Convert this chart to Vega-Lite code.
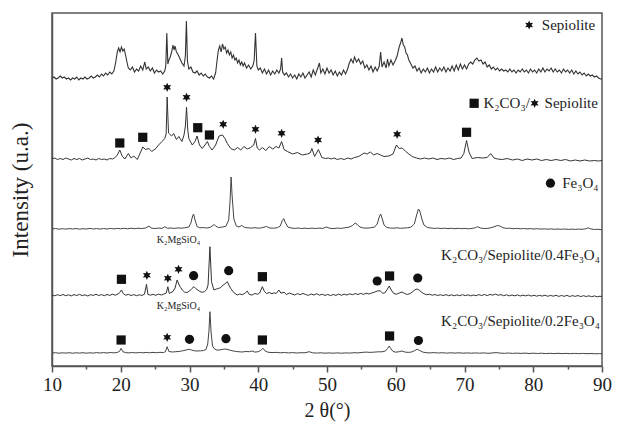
{
  "$schema": "https://vega.github.io/schema/vega-lite/v6.json",
  "width": 550,
  "height": 353,
  "autosize": {"type": "none"},
  "padding": {"left": 52, "top": 13, "right": 15, "bottom": 60},
  "config": {
    "font": "'Liberation Serif', 'Times New Roman', serif",
    "view": {"stroke": "#555", "strokeWidth": 1.5},
    "axis": {"domainColor": "#555", "domainWidth": 1.5, "grid": false, "labelColor": "#222", "titleColor": "#222", "titleFontWeight": "normal", "labelFont": "'Liberation Serif', 'Times New Roman', serif", "titleFont": "'Liberation Serif', 'Times New Roman', serif"}
  },
  "datasets": {
    "sep": [
      {"t":10.0,"i":288},{"t":10.3,"i":289},{"t":10.6,"i":287},{"t":10.9,"i":288},{"t":11.2,"i":290},{"t":11.5,"i":288},{"t":11.8,"i":289},{"t":12.1,"i":287},{"t":12.4,"i":288},{"t":12.7,"i":286},
      {"t":13.0,"i":288},{"t":13.3,"i":287},{"t":13.6,"i":289},{"t":13.9,"i":286},{"t":14.2,"i":288},{"t":14.5,"i":287},{"t":14.8,"i":289},{"t":15.1,"i":287},{"t":15.4,"i":288},{"t":15.7,"i":290},
      {"t":16.0,"i":288},{"t":16.3,"i":289},{"t":16.6,"i":291},{"t":16.9,"i":289},{"t":17.2,"i":292},{"t":17.5,"i":290},{"t":17.8,"i":293},{"t":18.1,"i":291},{"t":18.4,"i":294},{"t":18.7,"i":292},
      {"t":19.0,"i":295},{"t":19.25,"i":303},{"t":19.5,"i":314},{"t":19.7,"i":318},{"t":19.9,"i":314},{"t":20.1,"i":319},{"t":20.3,"i":315},{"t":20.5,"i":317},{"t":20.7,"i":311},{"t":20.9,"i":304},
      {"t":21.1,"i":298},{"t":21.4,"i":296},{"t":21.7,"i":299},{"t":22.0,"i":294},{"t":22.3,"i":297},{"t":22.6,"i":295},{"t":22.9,"i":300},{"t":23.2,"i":296},{"t":23.5,"i":304},{"t":23.7,"i":297},
      {"t":24.0,"i":299},{"t":24.3,"i":295},{"t":24.6,"i":298},{"t":24.9,"i":293},{"t":25.2,"i":296},{"t":25.5,"i":294},{"t":25.8,"i":295},{"t":26.1,"i":292},{"t":26.4,"i":295},{"t":26.55,"i":300},
      {"t":26.7,"i":333},{"t":26.85,"i":302},{"t":27.0,"i":306},{"t":27.2,"i":309},{"t":27.4,"i":314},{"t":27.6,"i":321},{"t":27.75,"i":316},{"t":27.9,"i":320},{"t":28.1,"i":314},{"t":28.3,"i":312},
      {"t":28.5,"i":309},{"t":28.7,"i":306},{"t":28.9,"i":303},{"t":29.2,"i":300},{"t":29.4,"i":310},{"t":29.55,"i":345},{"t":29.7,"i":305},{"t":29.9,"i":297},{"t":30.2,"i":299},{"t":30.5,"i":294},
      {"t":30.8,"i":293},{"t":31.1,"i":295},{"t":31.4,"i":291},{"t":31.7,"i":293},{"t":32.0,"i":290},{"t":32.3,"i":292},{"t":32.6,"i":289},{"t":32.9,"i":288},{"t":33.2,"i":290},{"t":33.5,"i":287},
      {"t":33.8,"i":293},{"t":34.0,"i":305},{"t":34.2,"i":316},{"t":34.4,"i":320},{"t":34.6,"i":314},{"t":34.8,"i":322},{"t":35.0,"i":317},{"t":35.2,"i":319},{"t":35.4,"i":313},{"t":35.6,"i":316},
      {"t":35.8,"i":311},{"t":36.0,"i":314},{"t":36.2,"i":308},{"t":36.4,"i":311},{"t":36.6,"i":306},{"t":36.8,"i":308},{"t":37.0,"i":303},{"t":37.2,"i":306},{"t":37.4,"i":301},{"t":37.6,"i":304},
      {"t":37.8,"i":300},{"t":38.0,"i":303},{"t":38.3,"i":298},{"t":38.6,"i":301},{"t":38.9,"i":297},{"t":39.2,"i":300},{"t":39.4,"i":305},{"t":39.6,"i":333},{"t":39.8,"i":300},{"t":40.0,"i":296},
      {"t":40.3,"i":298},{"t":40.6,"i":293},{"t":40.9,"i":297},{"t":41.2,"i":292},{"t":41.5,"i":296},{"t":41.8,"i":291},{"t":42.1,"i":295},{"t":42.4,"i":292},{"t":42.7,"i":296},{"t":43.0,"i":293},
      {"t":43.25,"i":297},{"t":43.4,"i":308},{"t":43.55,"i":294},{"t":43.8,"i":291},{"t":44.1,"i":293},{"t":44.4,"i":289},{"t":44.7,"i":292},{"t":45.0,"i":288},{"t":45.3,"i":291},{"t":45.6,"i":287},
      {"t":45.9,"i":292},{"t":46.2,"i":289},{"t":46.5,"i":293},{"t":46.8,"i":288},{"t":47.1,"i":291},{"t":47.4,"i":294},{"t":47.7,"i":289},{"t":48.0,"i":296},{"t":48.3,"i":291},{"t":48.6,"i":297},
      {"t":48.9,"i":303},{"t":49.1,"i":293},{"t":49.4,"i":297},{"t":49.7,"i":292},{"t":50.0,"i":298},{"t":50.3,"i":293},{"t":50.6,"i":296},{"t":50.9,"i":291},{"t":51.2,"i":295},{"t":51.5,"i":290},
      {"t":51.8,"i":294},{"t":52.1,"i":291},{"t":52.4,"i":296},{"t":52.7,"i":292},{"t":53.0,"i":297},{"t":53.2,"i":302},{"t":53.5,"i":307},{"t":53.8,"i":303},{"t":54.0,"i":309},{"t":54.3,"i":304},
      {"t":54.6,"i":307},{"t":54.9,"i":302},{"t":55.2,"i":305},{"t":55.5,"i":298},{"t":55.8,"i":301},{"t":56.1,"i":296},{"t":56.4,"i":300},{"t":56.7,"i":294},{"t":57.0,"i":299},{"t":57.3,"i":295},
      {"t":57.6,"i":300},{"t":57.8,"i":314},{"t":58.0,"i":299},{"t":58.3,"i":304},{"t":58.6,"i":298},{"t":58.8,"i":307},{"t":59.0,"i":300},{"t":59.3,"i":306},{"t":59.6,"i":301},{"t":59.9,"i":305},
      {"t":60.2,"i":310},{"t":60.5,"i":319},{"t":60.75,"i":324},{"t":60.9,"i":328},{"t":61.1,"i":321},{"t":61.3,"i":319},{"t":61.5,"i":313},{"t":61.7,"i":311},{"t":61.9,"i":306},{"t":62.2,"i":302},
      {"t":62.5,"i":298},{"t":62.8,"i":300},{"t":63.1,"i":295},{"t":63.4,"i":298},{"t":63.7,"i":293},{"t":64.0,"i":297},{"t":64.3,"i":294},{"t":64.6,"i":298},{"t":64.9,"i":293},{"t":65.2,"i":297},
      {"t":65.5,"i":294},{"t":65.8,"i":299},{"t":66.1,"i":294},{"t":66.4,"i":298},{"t":66.7,"i":295},{"t":67.0,"i":299},{"t":67.3,"i":294},{"t":67.6,"i":298},{"t":67.9,"i":295},{"t":68.2,"i":300},
      {"t":68.5,"i":295},{"t":68.8,"i":301},{"t":69.1,"i":296},{"t":69.4,"i":302},{"t":69.7,"i":297},{"t":70.0,"i":301},{"t":70.3,"i":297},{"t":70.6,"i":302},{"t":70.9,"i":304},{"t":71.2,"i":302},
      {"t":71.5,"i":306},{"t":71.8,"i":308},{"t":72.1,"i":305},{"t":72.4,"i":306},{"t":72.7,"i":302},{"t":73.0,"i":304},{"t":73.3,"i":299},{"t":73.6,"i":301},{"t":73.9,"i":297},{"t":74.2,"i":299},
      {"t":74.5,"i":296},{"t":74.8,"i":298},{"t":75.1,"i":295},{"t":75.4,"i":297},{"t":75.7,"i":295},{"t":76.0,"i":296},{"t":76.3,"i":294},{"t":76.6,"i":297},{"t":76.9,"i":294},{"t":77.2,"i":296},
      {"t":77.5,"i":293},{"t":77.8,"i":296},{"t":78.1,"i":294},{"t":78.4,"i":297},{"t":78.7,"i":294},{"t":79.0,"i":296},{"t":79.3,"i":293},{"t":79.6,"i":297},{"t":79.9,"i":294},{"t":80.2,"i":296},
      {"t":80.5,"i":293},{"t":80.8,"i":297},{"t":81.1,"i":294},{"t":81.4,"i":298},{"t":81.7,"i":294},{"t":82.0,"i":297},{"t":82.3,"i":295},{"t":82.6,"i":298},{"t":82.9,"i":294},{"t":83.2,"i":297},
      {"t":83.5,"i":294},{"t":83.8,"i":296},{"t":84.1,"i":293},{"t":84.4,"i":297},{"t":84.7,"i":294},{"t":85.0,"i":296},{"t":85.3,"i":293},{"t":85.6,"i":296},{"t":85.9,"i":292},{"t":86.2,"i":295},
      {"t":86.5,"i":292},{"t":86.8,"i":294},{"t":87.1,"i":291},{"t":87.4,"i":293},{"t":87.7,"i":290},{"t":88.0,"i":292},{"t":88.3,"i":290},{"t":88.6,"i":291},{"t":88.9,"i":289},{"t":89.2,"i":290},
      {"t":89.5,"i":288},{"t":89.8,"i":287},{"t":90.0,"i":287}
    ],
    "kcs": [
      {"t":10.0,"i":207},{"t":10.4,"i":208},{"t":10.8,"i":206.5},{"t":11.2,"i":207.5},{"t":11.6,"i":206.5},{"t":12.0,"i":208},{"t":12.4,"i":207},{"t":12.8,"i":206},{"t":13.2,"i":207.5},{"t":13.6,"i":206.5},
      {"t":14.0,"i":207.5},{"t":14.4,"i":206},{"t":14.8,"i":207},{"t":15.2,"i":208},{"t":15.6,"i":206.5},{"t":16.0,"i":207},{"t":16.4,"i":206},{"t":16.8,"i":207.5},{"t":17.2,"i":206.5},{"t":17.6,"i":207},
      {"t":18.0,"i":206},{"t":18.4,"i":207.5},{"t":18.8,"i":207},{"t":19.1,"i":208},{"t":19.5,"i":211},{"t":19.86,"i":216},{"t":20.2,"i":210},{"t":20.6,"i":207},{"t":21.1,"i":212.5},{"t":21.5,"i":208},
      {"t":21.9,"i":210},{"t":22.4,"i":206.5},{"t":22.9,"i":214},{"t":23.2,"i":219},{"t":23.6,"i":216.5},{"t":24.1,"i":217.5},{"t":24.5,"i":214.5},{"t":25.1,"i":217.5},{"t":25.5,"i":221},{"t":26.0,"i":224.5},
      {"t":26.4,"i":227.5},{"t":26.6,"i":232},{"t":26.75,"i":269},{"t":26.95,"i":233},{"t":27.4,"i":230},{"t":27.7,"i":232.5},{"t":28.1,"i":226.5},{"t":28.45,"i":229.5},{"t":28.9,"i":224.5},{"t":29.2,"i":231},
      {"t":29.4,"i":240},{"t":29.57,"i":259},{"t":29.75,"i":236},{"t":29.9,"i":227.5},{"t":30.4,"i":221},{"t":30.8,"i":224.5},{"t":31.1,"i":230},{"t":31.45,"i":221},{"t":31.85,"i":217.5},{"t":32.25,"i":221},
      {"t":32.6,"i":224.5},{"t":32.9,"i":219.5},{"t":33.3,"i":216},{"t":33.8,"i":221},{"t":34.3,"i":230},{"t":34.8,"i":231},{"t":35.15,"i":227.5},{"t":35.5,"i":222.5},{"t":36.0,"i":217.5},{"t":36.5,"i":216},
      {"t":37.0,"i":218.5},{"t":37.45,"i":216},{"t":37.9,"i":219.5},{"t":38.4,"i":217},{"t":38.9,"i":218.5},{"t":39.35,"i":221},{"t":39.6,"i":227.5},{"t":39.85,"i":218},{"t":40.2,"i":216},{"t":40.6,"i":218.5},
      {"t":41.1,"i":215.5},{"t":41.6,"i":219.5},{"t":42.1,"i":217},{"t":42.6,"i":219.5},{"t":43.0,"i":218},{"t":43.4,"i":224.5},{"t":43.75,"i":216.5},{"t":44.25,"i":214.5},{"t":45.0,"i":212},{"t":45.7,"i":213.5},
      {"t":46.4,"i":211},{"t":47.15,"i":212},{"t":47.55,"i":213},{"t":47.8,"i":217.5},{"t":48.2,"i":209.5},{"t":48.75,"i":216.5},{"t":49.25,"i":208.5},{"t":49.8,"i":207.5},{"t":50.2,"i":208},{"t":50.6,"i":207},
      {"t":51.0,"i":208},{"t":51.5,"i":206.5},{"t":52.0,"i":207.5},{"t":52.5,"i":206.5},{"t":53.0,"i":208},{"t":53.5,"i":207},{"t":54.0,"i":208.5},{"t":54.6,"i":209.5},{"t":55.4,"i":213},{"t":55.85,"i":212},
      {"t":56.3,"i":214},{"t":56.8,"i":211},{"t":57.3,"i":212.5},{"t":57.8,"i":211},{"t":58.3,"i":209.5},{"t":59.0,"i":210},{"t":59.6,"i":212},{"t":60.1,"i":221},{"t":60.5,"i":217.5},{"t":60.95,"i":218},
      {"t":61.45,"i":214.5},{"t":61.9,"i":212},{"t":62.4,"i":209.5},{"t":63.0,"i":208},{"t":63.6,"i":207},{"t":64.2,"i":208},{"t":64.8,"i":207},{"t":65.4,"i":208},{"t":66.0,"i":206.5},{"t":66.6,"i":207.5},
      {"t":67.2,"i":207},{"t":67.8,"i":208},{"t":68.4,"i":206.5},{"t":69.0,"i":207.5},{"t":69.5,"i":208},{"t":69.9,"i":212.5},{"t":70.3,"i":225.5},{"t":70.65,"i":214},{"t":71.1,"i":207.5},{"t":71.9,"i":208.5},
      {"t":72.6,"i":208},{"t":73.3,"i":208.5},{"t":73.8,"i":212.5},{"t":74.3,"i":208},{"t":74.8,"i":207},{"t":75.5,"i":206.5},{"t":76.2,"i":207.5},{"t":77.0,"i":206},{"t":77.7,"i":207},{"t":78.4,"i":205.5},
      {"t":79.1,"i":207},{"t":79.8,"i":206},{"t":80.5,"i":207},{"t":81.2,"i":205.5},{"t":81.9,"i":206.5},{"t":82.6,"i":205.5},{"t":83.3,"i":206.5},{"t":84.0,"i":205.5},{"t":84.7,"i":206.5},{"t":85.4,"i":205},
      {"t":86.1,"i":206},{"t":86.8,"i":205},{"t":87.5,"i":206},{"t":88.2,"i":205},{"t":88.9,"i":205.5},{"t":89.5,"i":205},{"t":90.0,"i":205.5}
    ],
    "fe": [
      {"t":10.0,"i":137},{"t":10.5,"i":137.5},{"t":11.0,"i":136.8},{"t":11.5,"i":137.3},{"t":12.0,"i":136.9},{"t":12.5,"i":137.4},{"t":13.0,"i":137},{"t":13.5,"i":137.5},{"t":14.0,"i":136.8},{"t":14.5,"i":137.3},
      {"t":15.0,"i":137},{"t":15.5,"i":137.6},{"t":16.0,"i":137},{"t":16.5,"i":137.4},{"t":17.0,"i":136.9},{"t":17.5,"i":137.5},{"t":18.0,"i":137},{"t":18.5,"i":137.6},{"t":19.0,"i":137.1},{"t":19.5,"i":137.6},
      {"t":20.0,"i":137.2},{"t":20.5,"i":137.7},{"t":21.0,"i":137.2},{"t":21.5,"i":137.8},{"t":22.0,"i":137.3},{"t":22.5,"i":137.8},{"t":23.0,"i":137.4},{"t":23.6,"i":138},{"t":24.1,"i":139.8},{"t":24.5,"i":137.8},
      {"t":25.0,"i":137.5},{"t":25.5,"i":137.9},{"t":26.0,"i":137.6},{"t":26.4,"i":139.3},{"t":26.8,"i":137.7},{"t":27.3,"i":138},{"t":27.8,"i":137.6},{"t":28.3,"i":138.1},{"t":28.8,"i":137.8},{"t":29.3,"i":138.2},
      {"t":29.9,"i":139},{"t":30.2,"i":143},{"t":30.45,"i":150},{"t":30.6,"i":152},{"t":30.8,"i":146},{"t":31.1,"i":139.5},{"t":31.5,"i":138.2},{"t":32.0,"i":138.4},{"t":32.5,"i":138},{"t":33.0,"i":138.6},
      {"t":33.4,"i":140.5},{"t":33.6,"i":141.5},{"t":33.8,"i":140},{"t":34.2,"i":138.5},{"t":34.7,"i":138.8},{"t":35.3,"i":139.8},{"t":35.7,"i":146},{"t":35.9,"i":165},{"t":36.05,"i":189},{"t":36.2,"i":170},
      {"t":36.45,"i":147},{"t":36.8,"i":140},{"t":37.2,"i":139},{"t":37.6,"i":140.5},{"t":38.0,"i":138.5},{"t":38.5,"i":138.2},{"t":39.0,"i":137.9},{"t":39.5,"i":138.3},{"t":40.0,"i":137.8},{"t":40.5,"i":138.2},
      {"t":41.2,"i":139.5},{"t":41.7,"i":138},{"t":42.2,"i":137.8},{"t":42.8,"i":138.3},{"t":43.2,"i":140},{"t":43.5,"i":145.5},{"t":43.7,"i":147.5},{"t":43.9,"i":144},{"t":44.3,"i":139},{"t":44.8,"i":138},
      {"t":45.3,"i":137.6},{"t":45.8,"i":138},{"t":46.3,"i":137.5},{"t":46.8,"i":137.9},{"t":47.3,"i":137.4},{"t":47.8,"i":137.9},{"t":48.3,"i":137.5},{"t":48.8,"i":137.9},{"t":49.4,"i":137.6},{"t":49.9,"i":139},
      {"t":50.4,"i":137.7},{"t":51.0,"i":137.5},{"t":51.5,"i":137.9},{"t":52.0,"i":137.6},{"t":52.6,"i":138.2},{"t":53.2,"i":138.8},{"t":53.7,"i":140.5},{"t":54.1,"i":143},{"t":54.4,"i":141.5},{"t":54.8,"i":139},
      {"t":55.3,"i":138},{"t":55.8,"i":137.9},{"t":56.3,"i":138.2},{"t":56.9,"i":138.8},{"t":57.3,"i":142},{"t":57.6,"i":149},{"t":57.8,"i":152},{"t":58.0,"i":148},{"t":58.3,"i":141},{"t":58.7,"i":138.5},
      {"t":59.2,"i":138},{"t":59.7,"i":137.8},{"t":60.2,"i":138.2},{"t":60.7,"i":137.7},{"t":61.2,"i":138},{"t":61.7,"i":138.2},{"t":62.2,"i":138.8},{"t":62.7,"i":142},{"t":63.0,"i":150},{"t":63.3,"i":157},
      {"t":63.5,"i":155},{"t":63.8,"i":147},{"t":64.1,"i":141},{"t":64.6,"i":138.5},{"t":65.1,"i":138},{"t":65.6,"i":137.6},{"t":66.1,"i":137.9},{"t":66.6,"i":137.5},{"t":67.1,"i":137.8},{"t":67.6,"i":137.4},
      {"t":68.1,"i":137.7},{"t":68.6,"i":137.3},{"t":69.1,"i":137.7},{"t":69.6,"i":137.3},{"t":70.1,"i":137.6},{"t":70.6,"i":137.2},{"t":71.1,"i":137.6},{"t":71.6,"i":138.3},{"t":71.9,"i":139.3},{"t":72.3,"i":138},
      {"t":72.8,"i":137.5},{"t":73.3,"i":137.6},{"t":73.8,"i":138.2},{"t":74.3,"i":139.2},{"t":74.8,"i":140.6},{"t":75.2,"i":139.8},{"t":75.6,"i":138.3},{"t":76.1,"i":137.6},{"t":76.6,"i":137.8},{"t":77.1,"i":137.3},
      {"t":77.6,"i":137.6},{"t":78.1,"i":137.2},{"t":78.6,"i":137.5},{"t":79.1,"i":137.1},{"t":79.6,"i":137.4},{"t":80.1,"i":137},{"t":80.6,"i":137.3},{"t":81.1,"i":136.9},{"t":81.6,"i":137.2},{"t":82.1,"i":136.8},
      {"t":82.6,"i":137.1},{"t":83.1,"i":136.7},{"t":83.6,"i":137},{"t":84.1,"i":136.7},{"t":84.6,"i":137},{"t":85.1,"i":136.6},{"t":85.6,"i":136.9},{"t":86.1,"i":136.6},{"t":86.6,"i":136.9},{"t":87.1,"i":136.7},
      {"t":87.6,"i":137.2},{"t":88.0,"i":138.2},{"t":88.4,"i":137},{"t":88.9,"i":136.5},{"t":89.4,"i":136.7},{"t":90.0,"i":136.2}
    ],
    "f04": [
      {"t":10.0,"i":71},{"t":10.4,"i":70.2},{"t":10.8,"i":71.3},{"t":11.2,"i":70.4},{"t":11.6,"i":71.5},{"t":12.0,"i":70.3},{"t":12.4,"i":71.2},{"t":12.8,"i":70.1},{"t":13.2,"i":71.4},{"t":13.6,"i":70.5},
      {"t":14.0,"i":71.6},{"t":14.4,"i":70.4},{"t":14.8,"i":71.2},{"t":15.2,"i":70},{"t":15.6,"i":71.3},{"t":16.0,"i":70.6},{"t":16.4,"i":71.7},{"t":16.8,"i":70.5},{"t":17.2,"i":71.4},{"t":17.6,"i":70.3},
      {"t":18.0,"i":71.5},{"t":18.4,"i":70.6},{"t":18.8,"i":71.8},{"t":19.2,"i":70.8},{"t":19.6,"i":72},{"t":19.85,"i":73.5},{"t":20.1,"i":76},{"t":20.35,"i":72.5},{"t":20.7,"i":70.8},{"t":21.1,"i":71.6},
      {"t":21.5,"i":70.5},{"t":21.9,"i":71.4},{"t":22.3,"i":70.3},{"t":22.7,"i":71.2},{"t":23.1,"i":70.6},{"t":23.45,"i":71.8},{"t":23.75,"i":81.7},{"t":23.95,"i":71.6},{"t":24.3,"i":70.8},{"t":24.7,"i":71.6},
      {"t":25.1,"i":70.7},{"t":25.5,"i":71.9},{"t":25.9,"i":71},{"t":26.3,"i":72},{"t":26.6,"i":72.8},{"t":26.85,"i":79.3},{"t":27.05,"i":72.6},{"t":27.3,"i":73.5},{"t":27.6,"i":74.5},{"t":27.9,"i":78},
      {"t":28.2,"i":86},{"t":28.5,"i":81},{"t":28.7,"i":78.5},{"t":28.95,"i":76},{"t":29.25,"i":74},{"t":29.6,"i":73.4},{"t":30.0,"i":75},{"t":30.35,"i":77.5},{"t":30.64,"i":79.3},{"t":30.9,"i":77.5},
      {"t":31.2,"i":76},{"t":31.5,"i":74.5},{"t":31.85,"i":73.7},{"t":32.2,"i":74.5},{"t":32.5,"i":76.5},{"t":32.7,"i":81},{"t":32.97,"i":119.3},{"t":33.2,"i":84.3},{"t":33.55,"i":76},{"t":33.9,"i":77},
      {"t":34.2,"i":77.5},{"t":34.55,"i":78.5},{"t":34.9,"i":81},{"t":35.2,"i":82.5},{"t":35.5,"i":84.3},{"t":35.8,"i":80},{"t":36.0,"i":77.5},{"t":36.45,"i":73.3},{"t":36.95,"i":71},{"t":37.3,"i":72},
      {"t":37.7,"i":71.3},{"t":38.1,"i":73},{"t":38.4,"i":75},{"t":38.7,"i":71.5},{"t":39.1,"i":71},{"t":39.5,"i":72.5},{"t":39.9,"i":71.8},{"t":40.2,"i":73},{"t":40.6,"i":79.3},{"t":40.9,"i":74.5},
      {"t":41.2,"i":72.5},{"t":41.6,"i":73.5},{"t":42.0,"i":72.3},{"t":42.3,"i":73.2},{"t":42.6,"i":72.5},{"t":43.0,"i":76},{"t":43.3,"i":72.8},{"t":43.75,"i":73.8},{"t":44.1,"i":71.5},{"t":44.5,"i":73},
      {"t":44.9,"i":72},{"t":45.3,"i":71},{"t":45.7,"i":72.4},{"t":46.1,"i":71.3},{"t":46.5,"i":72.6},{"t":46.9,"i":71.5},{"t":47.3,"i":70.6},{"t":47.7,"i":72},{"t":48.1,"i":71},{"t":48.5,"i":72.3},
      {"t":48.9,"i":70.8},{"t":49.3,"i":71.8},{"t":49.7,"i":70.5},{"t":50.1,"i":71.6},{"t":50.5,"i":70.4},{"t":50.9,"i":71.5},{"t":51.3,"i":70.6},{"t":51.7,"i":71.9},{"t":52.1,"i":70.7},{"t":52.5,"i":71.8},
      {"t":52.9,"i":71},{"t":53.3,"i":72.2},{"t":53.7,"i":71.3},{"t":54.1,"i":72.4},{"t":54.5,"i":71.5},{"t":54.9,"i":72.6},{"t":55.3,"i":71.6},{"t":55.7,"i":72.8},{"t":56.1,"i":72},{"t":56.5,"i":73},
      {"t":56.9,"i":73.8},{"t":57.3,"i":75},{"t":57.7,"i":75.3},{"t":58.1,"i":72.8},{"t":58.4,"i":73},{"t":58.75,"i":76.5},{"t":59.05,"i":80},{"t":59.35,"i":76},{"t":59.7,"i":72.5},{"t":60.1,"i":71.8},
      {"t":60.5,"i":73},{"t":60.9,"i":74},{"t":61.3,"i":72.5},{"t":61.7,"i":71.5},{"t":62.1,"i":72.5},{"t":62.5,"i":74.5},{"t":62.8,"i":76.3},{"t":63.1,"i":77},{"t":63.4,"i":76},{"t":63.7,"i":74},
      {"t":64.1,"i":72.3},{"t":64.5,"i":71.2},{"t":64.9,"i":71.8},{"t":65.3,"i":70.8},{"t":65.7,"i":71.5},{"t":66.1,"i":70.5},{"t":66.5,"i":71.3},{"t":66.9,"i":70.4},{"t":67.3,"i":71.4},{"t":67.7,"i":70.3},
      {"t":68.1,"i":71.2},{"t":68.5,"i":70.2},{"t":68.9,"i":71.1},{"t":69.3,"i":70.3},{"t":69.7,"i":71.3},{"t":70.1,"i":70.4},{"t":70.5,"i":71.2},{"t":70.9,"i":70.1},{"t":71.3,"i":71},{"t":71.7,"i":70.3},
      {"t":72.1,"i":71.4},{"t":72.5,"i":70.5},{"t":72.9,"i":71.5},{"t":73.3,"i":70.4},{"t":73.7,"i":71.6},{"t":74.1,"i":70.8},{"t":74.5,"i":71.9},{"t":74.9,"i":70.7},{"t":75.3,"i":71.4},{"t":75.7,"i":70.3},
      {"t":76.1,"i":71.2},{"t":76.5,"i":70.1},{"t":76.9,"i":71},{"t":77.3,"i":70.2},{"t":77.7,"i":71.1},{"t":78.1,"i":70},{"t":78.5,"i":70.9},{"t":78.9,"i":70.1},{"t":79.3,"i":71},{"t":79.7,"i":69.9},
      {"t":80.1,"i":70.8},{"t":80.5,"i":69.8},{"t":80.9,"i":70.7},{"t":81.3,"i":69.9},{"t":81.7,"i":70.8},{"t":82.1,"i":69.7},{"t":82.5,"i":70.6},{"t":82.9,"i":69.8},{"t":83.3,"i":70.7},{"t":83.7,"i":69.6},
      {"t":84.1,"i":70.5},{"t":84.5,"i":69.7},{"t":84.9,"i":70.6},{"t":85.3,"i":69.5},{"t":85.7,"i":70.4},{"t":86.1,"i":69.6},{"t":86.5,"i":70.5},{"t":86.9,"i":69.4},{"t":87.3,"i":70.3},{"t":87.7,"i":69.5},
      {"t":88.1,"i":70.2},{"t":88.5,"i":69.3},{"t":88.9,"i":70.1},{"t":89.3,"i":69.2},{"t":89.7,"i":69.8},{"t":90.0,"i":69.3}
    ],
    "f02": [
      {"t":10.0,"i":13},{"t":10.5,"i":13.3},{"t":11.0,"i":12.8},{"t":11.5,"i":13.2},{"t":12.0,"i":12.9},{"t":12.5,"i":13.3},{"t":13.0,"i":12.8},{"t":13.5,"i":13.2},{"t":14.0,"i":12.9},{"t":14.5,"i":13.3},
      {"t":15.0,"i":12.8},{"t":15.5,"i":13.2},{"t":16.0,"i":12.9},{"t":16.5,"i":13.4},{"t":17.0,"i":13},{"t":17.5,"i":13.4},{"t":18.0,"i":13},{"t":18.5,"i":13.5},{"t":19.0,"i":13.1},{"t":19.5,"i":13.6},
      {"t":19.8,"i":14.5},{"t":20.05,"i":17.7},{"t":20.3,"i":14.3},{"t":20.7,"i":13.4},{"t":21.2,"i":13.1},{"t":21.7,"i":13.5},{"t":22.2,"i":13.1},{"t":22.7,"i":13.5},{"t":23.2,"i":13.2},{"t":23.7,"i":13.6},
      {"t":24.2,"i":13.2},{"t":24.7,"i":13.6},{"t":25.2,"i":13.3},{"t":25.7,"i":13.7},{"t":26.2,"i":13.4},{"t":26.5,"i":14.3},{"t":26.75,"i":19.3},{"t":27.0,"i":14.5},{"t":27.5,"i":14},{"t":28.0,"i":14.3},
      {"t":28.5,"i":14.6},{"t":29.0,"i":15.2},{"t":29.5,"i":16},{"t":29.9,"i":16.7},{"t":30.3,"i":16},{"t":30.7,"i":15.2},{"t":31.1,"i":15},{"t":31.6,"i":15.2},{"t":32.0,"i":15.4},{"t":32.4,"i":16.5},
      {"t":32.65,"i":22},{"t":32.83,"i":35},{"t":32.97,"i":54.3},{"t":33.15,"i":33},{"t":33.35,"i":20},{"t":33.6,"i":17.2},{"t":34.0,"i":15.8},{"t":34.5,"i":16.2},{"t":34.9,"i":16.7},{"t":35.25,"i":17},
      {"t":35.6,"i":16.4},{"t":36.0,"i":15.6},{"t":36.5,"i":14.8},{"t":37.0,"i":14.4},{"t":37.6,"i":14},{"t":38.2,"i":14.5},{"t":38.7,"i":14.3},{"t":39.1,"i":15},{"t":39.5,"i":13.9},{"t":40.0,"i":14.3},
      {"t":40.35,"i":15.5},{"t":40.7,"i":17.7},{"t":41.0,"i":15},{"t":41.4,"i":13.8},{"t":42.0,"i":13.4},{"t":42.6,"i":13.6},{"t":43.2,"i":13.2},{"t":43.8,"i":13.5},{"t":44.4,"i":13.1},{"t":45.0,"i":13.4},
      {"t":45.6,"i":13},{"t":46.2,"i":13.3},{"t":46.8,"i":13.2},{"t":47.4,"i":14.3},{"t":47.9,"i":13.2},{"t":48.5,"i":12.9},{"t":49.1,"i":13.2},{"t":49.7,"i":12.8},{"t":50.3,"i":13.1},{"t":50.9,"i":12.8},
      {"t":51.5,"i":13.1},{"t":52.1,"i":12.8},{"t":52.7,"i":13.1},{"t":53.3,"i":12.9},{"t":53.9,"i":13.3},{"t":54.5,"i":13.1},{"t":55.1,"i":13.6},{"t":55.7,"i":13.9},{"t":56.3,"i":13.6},{"t":56.9,"i":13.9},
      {"t":57.5,"i":14.2},{"t":58.0,"i":14.2},{"t":58.5,"i":15},{"t":58.8,"i":17.5},{"t":59.05,"i":20},{"t":59.3,"i":17.2},{"t":59.6,"i":14.6},{"t":60.0,"i":13.8},{"t":60.5,"i":14.3},{"t":60.9,"i":15},
      {"t":61.3,"i":14},{"t":61.8,"i":13.6},{"t":62.3,"i":14},{"t":62.7,"i":15.2},{"t":63.1,"i":16.8},{"t":63.5,"i":15.4},{"t":63.9,"i":14},{"t":64.4,"i":13.3},{"t":65.0,"i":13.1},{"t":65.6,"i":13.4},
      {"t":66.2,"i":13},{"t":66.8,"i":13.3},{"t":67.4,"i":12.9},{"t":68.0,"i":13.2},{"t":68.6,"i":12.9},{"t":69.2,"i":13.2},{"t":69.8,"i":12.8},{"t":70.4,"i":13.1},{"t":71.0,"i":12.8},{"t":71.6,"i":13.1},
      {"t":72.2,"i":12.8},{"t":72.8,"i":13.1},{"t":73.4,"i":12.7},{"t":74.0,"i":13},{"t":74.6,"i":13.4},{"t":75.2,"i":12.9},{"t":75.8,"i":12.7},{"t":76.4,"i":13},{"t":77.0,"i":12.6},{"t":77.6,"i":12.9},
      {"t":78.2,"i":12.6},{"t":78.8,"i":12.9},{"t":79.4,"i":12.5},{"t":80.0,"i":12.8},{"t":80.6,"i":12.5},{"t":81.2,"i":12.8},{"t":81.8,"i":12.4},{"t":82.4,"i":12.7},{"t":83.0,"i":12.4},{"t":83.6,"i":12.7},
      {"t":84.2,"i":12.4},{"t":84.8,"i":12.6},{"t":85.4,"i":12.3},{"t":86.0,"i":12.6},{"t":86.6,"i":12.3},{"t":87.2,"i":12.6},{"t":87.8,"i":12.3},{"t":88.4,"i":12.5},{"t":89.0,"i":12.2},{"t":89.6,"i":12.4},{"t":90.0,"i":12.2}
    ],
    "phases": [
      {"t":19.86,"i":223,"k":"sq"},{"t":23.2,"i":228.7,"k":"sq"},{"t":26.75,"i":278.7,"k":"st"},{"t":29.57,"i":268.7,"k":"st"},{"t":31.2,"i":238.3,"k":"sq"},{"t":32.9,"i":231,"k":"sq"},
      {"t":34.9,"i":241.7,"k":"st"},{"t":39.6,"i":236.7,"k":"st"},{"t":43.4,"i":232.7,"k":"st"},{"t":48.7,"i":226,"k":"st"},{"t":60.2,"i":231.7,"k":"st"},{"t":70.3,"i":233.7,"k":"sq"},
      {"t":20.1,"i":86.7,"k":"sq"},{"t":23.8,"i":90.7,"k":"st"},{"t":26.85,"i":87.7,"k":"st"},{"t":28.4,"i":96.7,"k":"st"},{"t":30.6,"i":90.3,"k":"ci"},{"t":35.7,"i":95.3,"k":"ci"},
      {"t":40.6,"i":89.3,"k":"sq"},{"t":57.3,"i":85,"k":"ci"},{"t":59.1,"i":90,"k":"sq"},{"t":63.2,"i":88,"k":"ci"},
      {"t":20.05,"i":26,"k":"sq"},{"t":26.75,"i":28.7,"k":"st"},{"t":30.0,"i":26.7,"k":"ci"},{"t":35.3,"i":27.3,"k":"ci"},{"t":40.6,"i":26,"k":"sq"},{"t":59.1,"i":30,"k":"sq"},{"t":63.3,"i":25.5,"k":"ci"},
      {"t":79.4,"i":341,"k":"st"},{"t":71.4,"i":262.7,"k":"sq"},{"t":80.2,"i":262.7,"k":"st"},{"t":82.5,"i":182.8,"k":"ci"}
    ],
    "names": [
      {"t":89.0,"i":341,"s":"Sepiolite"},
      {"t":89.4,"i":262.7,"s":"Sepiolite"},
      {"t":79.5,"i":262.7,"s":"K₂CO₃/"},
      {"t":89.5,"i":182.8,"s":"Fe₃O₄"},
      {"t":89.7,"i":111,"s":"K₂CO₃/Sepiolite/0.4Fe₃O₄"},
      {"t":89.7,"i":45,"s":"K₂CO₃/Sepiolite/0.2Fe₃O₄"}
    ],
    "peaknames": [
      {"t":28.4,"i":126,"s":"K₂MgSiO₄"},
      {"t":28.4,"i":60,"s":"K₂MgSiO₄"}
    ]
  },
  "encoding": {
    "x": {
      "field": "t", "type": "quantitative",
      "scale": {"domain": [10, 90], "nice": false, "zero": false},
      "axis": {
        "title": "2 θ(°)", "titleFontSize": 20, "titlePadding": 6,
        "values": [10,15,20,25,30,35,40,45,50,55,60,65,70,75,80,85,90],
        "labelExpr": "datum.value % 10 === 0 ? datum.label : ''",
        "labelFontSize": 19, "labelPadding": 3, "labelFlush": false,
        "tickColor": "#555", "tickWidth": 1.5,
        "tickSize": {"condition": {"test": "datum.value % 10 === 0", "value": 6}, "value": 3}
      }
    },
    "y": {
      "field": "i", "type": "quantitative",
      "scale": {"domain": [0, 353], "nice": false, "zero": false},
      "axis": {"title": "Intensity (u.a.)", "titleFontSize": 23, "titlePadding": 20, "ticks": false, "labels": false}
    }
  },
  "layer": [
    {"data": {"name": "sep"}, "mark": {"type": "line", "color": "#333", "strokeWidth": 1.1}},
    {"data": {"name": "kcs"}, "mark": {"type": "line", "color": "#333", "strokeWidth": 1}},
    {"data": {"name": "fe"}, "mark": {"type": "line", "color": "#444", "strokeWidth": 1}},
    {"data": {"name": "f04"}, "mark": {"type": "line", "color": "#333", "strokeWidth": 1}},
    {"data": {"name": "f02"}, "mark": {"type": "line", "color": "#444", "strokeWidth": 1}},
    {
      "data": {"name": "phases"},
      "mark": {"type": "point", "filled": true, "opacity": 1, "color": "#111", "size": 85},
      "encoding": {
        "shape": {
          "field": "k", "type": "nominal", "legend": null,
          "scale": {"domain": ["sq", "st", "ci"], "range": ["square", "M0,-1L0.25,-0.433L0.866,-0.5L0.5,0L0.866,0.5L0.25,0.433L0,1L-0.25,0.433L-0.866,0.5L-0.5,0L-0.866,-0.5L-0.25,-0.433Z", "circle"]}
        }
      }
    },
    {
      "data": {"name": "names"},
      "mark": {"type": "text", "align": "right", "baseline": "middle", "font": "'Liberation Serif', 'Times New Roman', serif", "fontSize": 15, "color": "#222"},
      "encoding": {"text": {"field": "s"}}
    },
    {
      "data": {"name": "peaknames"},
      "mark": {"type": "text", "align": "center", "baseline": "middle", "font": "'Liberation Serif', 'Times New Roman', serif", "fontSize": 10, "color": "#222"},
      "encoding": {"text": {"field": "s"}}
    }
  ]
}
